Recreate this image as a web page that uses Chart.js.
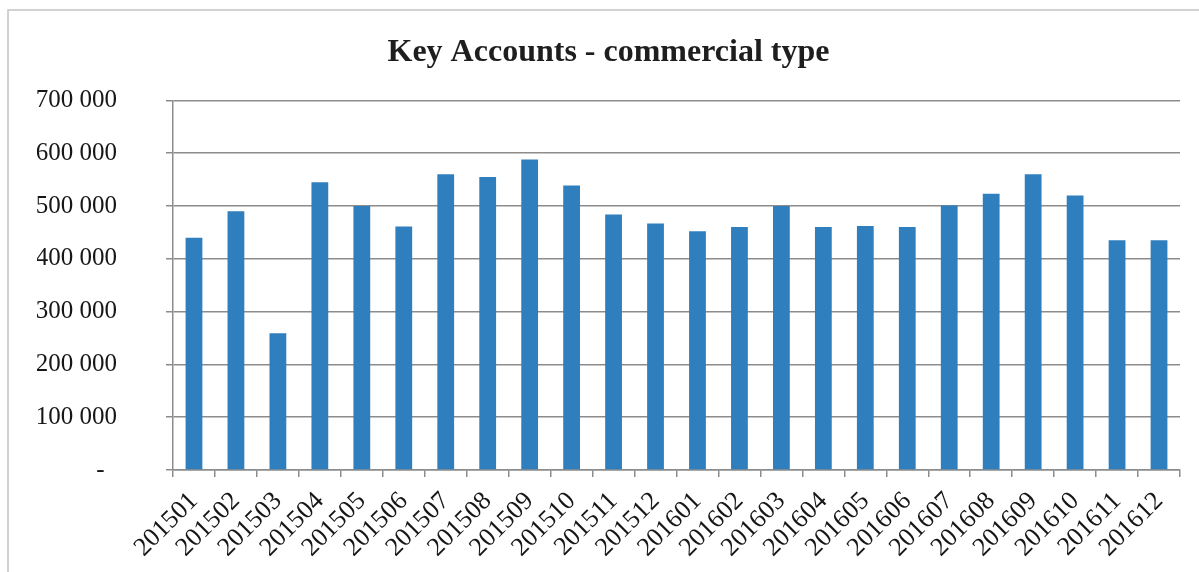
<!DOCTYPE html>
<html>
<head>
<meta charset="utf-8">
<script src="https://cdn.jsdelivr.net/npm/chart.js@4.4.1/dist/chart.umd.min.js"></script>
<style>
  html, body { margin: 0; padding: 0; background: #fff; }
  #wrap { width: 1199px; height: 572px; position: relative; }
</style>
</head>
<body>
<div id="wrap"><canvas id="graphic-keyAccounts"></canvas></div>
<script>
// Periodos (ano + mes) e volumes mensais
const periodos = [
    '201501', '201502', '201503', '201504', '201505', '201506',
    '201507', '201508', '201509', '201510', '201511', '201512',
    '201601', '201602', '201603', '201604', '201605', '201606',
    '201607', '201608', '201609', '201610', '201611', '201612'
];
const volumes = [
    440000, 490000, 259000, 545000, 500000, 461000,
    560000, 555000, 588000, 539000, 484000, 467000,
    452000, 460000, 500000, 460000, 462000, 460000,
    501000, 523000, 560000, 520000, 435000, 435000
];
const tituloGrafico = 'Key Accounts - commercial type';

const corBarra = '#2f7fbf';
const corGrade = '#8c8c8c';
const fonteSerif = "'Liberation Serif', 'Times New Roman', serif";

// 700000 -> "700 000", zero vira "-"
function formatarValor(v) {
    if (v === 0) return '-  ';
    return String(v).replace(/\B(?=(\d{3})+(?!\d))/g, ' ');
}

// Moldura cinza (so esquerda e topo aparecem)
const moldura = {
    id: 'moldura',
    beforeDraw(chart) {
        const c = chart.ctx;
        c.save();
        c.fillStyle = '#fff';
        c.fillRect(0, 0, chart.width, chart.height);
        c.strokeStyle = '#c4c4c4';
        c.lineWidth = 1.5;
        c.beginPath();
        c.moveTo(8, chart.height);
        c.lineTo(8, 10);
        c.lineTo(chart.width, 10);
        c.stroke();
        c.restore();
    }
};

const ctx = document.getElementById('graphic-keyAccounts').getContext('2d');

new Chart(ctx, {
    type: 'bar',
    data: {
        labels: periodos,
        datasets: [{
            data: volumes,
            backgroundColor: corBarra,
            borderWidth: 0,
            categoryPercentage: 1,
            barPercentage: 0.4
        }]
    },
    options: {
        responsive: true,
        maintainAspectRatio: false,
        animation: false,
        layout: {
            padding: { top: 10, left: 37, right: 19, bottom: 4 }
        },
        plugins: {
            legend: { display: false },
            tooltip: { enabled: false },
            title: {
                display: true,
                text: tituloGrafico,
                color: '#1e1e1e',
                font: { family: fonteSerif, size: 32, weight: 'bold' },
                padding: { top: 24, bottom: 28 }
            }
        },
        scales: {
            x: {
                grid: {
                    display: true,
                    drawOnChartArea: false,
                    drawTicks: true,
                    tickLength: 7,
                    color: corGrade,
                    lineWidth: 1.5
                },
                border: { color: corGrade, width: 1.5 },
                ticks: {
                    autoSkip: false,
                    minRotation: 45,
                    maxRotation: 45,
                    padding: 9,
                    color: '#161616',
                    font: { family: fonteSerif, size: 26 }
                },
                afterFit(scale) { scale.height = 98; }
            },
            y: {
                min: 0,
                max: 700000,
                grid: {
                    color: corGrade,
                    lineWidth: 1.5,
                    tickLength: 7
                },
                border: { color: corGrade, width: 1.5 },
                ticks: {
                    stepSize: 100000,
                    padding: 49,
                    color: '#161616',
                    font: { family: fonteSerif, size: 25 },
                    callback: formatarValor
                },
                afterFit(scale) { scale.width = 136; }
            }
        }
    },
    plugins: [moldura]
});
</script>
</body>
</html>
